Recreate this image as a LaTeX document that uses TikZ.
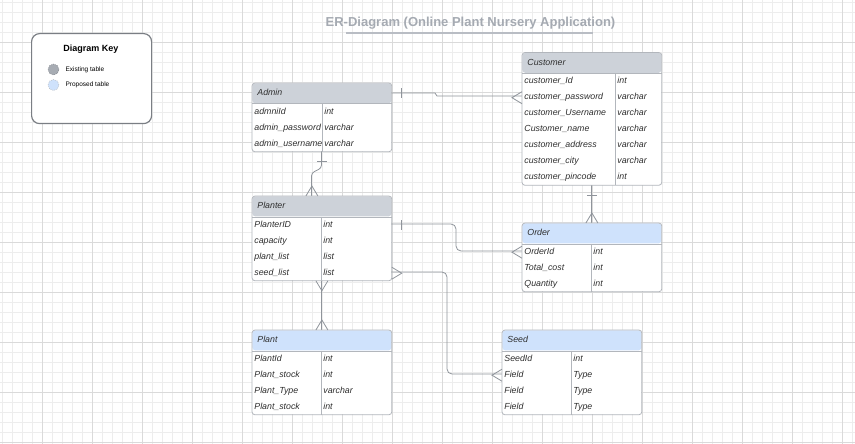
\documentclass[tikz,border=0pt]{standalone}
\usepackage{fontspec}
\setmainfont{Liberation Sans}
\usepackage{xcolor}
\definecolor{gridminor}{HTML}{EDEDED}
\definecolor{gridmajor}{HTML}{DADADA}
\definecolor{greyhead}{HTML}{CDD2D9}
\definecolor{bluehead}{HTML}{CFE2FC}
\definecolor{tabline}{HTML}{B2B6BC}
\definecolor{linkcolor}{HTML}{8F949B}
\definecolor{keyline}{HTML}{7A7E84}
\definecolor{titlecolor}{HTML}{A5AAB2}
\definecolor{titleline}{HTML}{B9BDC4}
\definecolor{oldfill}{HTML}{A7ACB3}
\definecolor{textcolor}{HTML}{2E2E2E}
\usepackage{tikz}
\usetikzlibrary{%
    calc,
    positioning
}
\newcommand{\tabfont}{\fontsize{8.8}{10}\selectfont\itshape}

\begin{document}
\begin{tikzpicture}[x=1pt, y=-1pt, line width=0.8pt,
    link/.style={draw=linkcolor, line width=0.8pt},
    frame/.style={fill=white, anchor=north west, minimum width=139pt, inner sep=0pt},
    head/.style={fill=#1, anchor=north west, minimum width=139pt, minimum height=20pt, text width=129pt, align=left, inner xsep=5pt, inner ysep=0pt, text height=6.5pt, text depth=2pt, rounded corners=3pt, font=\tabfont, text=textcolor},
    field/.style={anchor=north west, minimum width=139pt, minimum height=16pt, text width=135pt, align=left, inner xsep=2pt, inner ysep=0pt, text height=6.5pt, text depth=2pt, font=\tabfont, text=textcolor},
    type/.style={anchor=west, inner xsep=2pt, inner ysep=0pt, text height=6.5pt, text depth=2pt, font=\tabfont, text=textcolor},
    dot/.style={circle, minimum size=11pt, inner sep=0pt, dash pattern=on 1pt off 1pt, line width=0.4pt},
    keytext/.style={inner sep=0pt, font=\fontsize{6.5}{7}\selectfont},
    pics/many/.style={code={\draw [link] (0, -6) -- (10, 0) -- (0, 6);}},
    pics/one/.style={code={\draw [link] (10, -5) -- (10, 5);}}
    ]

    \useasboundingbox (0, 0) rectangle (855, 444);
    \fill [white] (0, 0) rectangle (855, 444);

    % grid
    \foreach \x in {2, 12, ..., 852} \draw [gridminor, line width=0.6pt] (\x, 0) -- (\x, 444);
    \foreach \y in {2, 12, ..., 442} \draw [gridminor, line width=0.6pt] (0, \y) -- (855, \y);
    \foreach \x in {42, 92, ..., 842} \draw [gridmajor, line width=0.8pt] (\x, 0) -- (\x, 444);
    \foreach \y in {42, 92, ..., 442} \draw [gridmajor, line width=0.8pt] (0, \y) -- (855, \y);

    % title
    \node (title) [font=\bfseries\fontsize{13}{15}\selectfont, text=titlecolor] at (470.5, 23.5) {ER-Diagram (Online Plant Nursery Application)};
    \draw [titleline, line width=1.1pt] (346, 33) -- (593, 33);

    % key
    \node (key) [draw=keyline, line width=1.2pt, rounded corners=8pt, fill=white, anchor=north west, minimum width=120pt, minimum height=90pt] at (31, 33) {};
    \node (key-title) [font=\bfseries\fontsize{9}{10}\selectfont] at (91, 49) {Diagram Key};
    \node (key-old) [dot, fill=oldfill, draw=keyline] at (53.5, 69.5) {};
    \node (key-new) [dot, fill=bluehead, draw=tabline] at (53.5, 85) {};
    \node (key-old-text) [keytext, right=6pt of key-old] {Existing table};
    \node (key-new-text) [keytext, right=6pt of key-new] {Proposed table};

    % connectors
    \draw [link] (252, 93) -- ++(183, 0) -- ++(2, 3) -- (522, 96);
    \draw [link, rounded corners=3pt] (321.5, 151) -- ++(0, 17) -- ++(-10, 5) -- (311.5, 196);
    \draw [link] (591.5, 184) -- (591.5, 223);
    \draw [link, rounded corners=5pt] (391, 224) -- ++(65, 0) |- (522, 251);
    \draw [link, rounded corners=5pt] (391, 272) -- ++(56, 0) |- (502, 374);
    \draw [link] (321.5, 280) -- (321.5, 330);

    % Admin
    \node (admin) [frame, minimum height=68pt] at (252, 83) {};
    \node (admin-head) [head=greyhead] at (admin.north west) {Admin};
    \foreach \fld/\typ [count=\i] in {admniId/int, admin\_password/varchar, admin\_username/varchar} {%
            \node (admin-\i) [field] at ($ (admin-head.south west) + (0, {16*(\i-1)}) $) {\fld};
            \node (admin-\i-type) [type] at ($ (admin-\i.west) + (70, 0) $) {\typ};
        }
    \draw [tabline, line width=0.6pt] ($ (admin-head.south west) + (70, 0) $) -- ++(0, 48);
    \draw [tabline, line width=0.6pt] (admin-head.south west) -- (admin-head.south east);
    \draw [tabline, rounded corners=3pt] (admin.north west) rectangle (admin.south east);

    % Customer
    \node (customer) [frame, minimum height=132pt] at (522, 52.5) {};
    \node (customer-head) [head=greyhead] at (customer.north west) {Customer};
    \foreach \fld/\typ [count=\i] in {customer\_Id/int, customer\_password/varchar, customer\_Username/varchar, Customer\_name/varchar, customer\_address/varchar, customer\_city/varchar, customer\_pincode/int} {%
            \node (customer-\i) [field] at ($ (customer-head.south west) + (0, {16*(\i-1)}) $) {\fld};
            \node (customer-\i-type) [type] at ($ (customer-\i.west) + (93, 0) $) {\typ};
        }
    \draw [tabline, line width=0.6pt] ($ (customer-head.south west) + (93, 0) $) -- ++(0, 112);
    \draw [tabline, line width=0.6pt] (customer-head.south west) -- (customer-head.south east);
    \draw [tabline, rounded corners=3pt] (customer.north west) rectangle (customer.south east);

    % Planter
    \node (planter) [frame, minimum height=84pt] at (252, 196) {};
    \node (planter-head) [head=greyhead] at (planter.north west) {Planter};
    \foreach \fld/\typ [count=\i] in {PlanterID/int, capacity/int, plant\_list/list, seed\_list/list} {%
            \node (planter-\i) [field] at ($ (planter-head.south west) + (0, {16*(\i-1)}) $) {\fld};
            \node (planter-\i-type) [type] at ($ (planter-\i.west) + (69, 0) $) {\typ};
        }
    \draw [tabline, line width=0.6pt] ($ (planter-head.south west) + (69, 0) $) -- ++(0, 64);
    \draw [tabline, line width=0.6pt] (planter-head.south west) -- (planter-head.south east);
    \draw [tabline, rounded corners=3pt] (planter.north west) rectangle (planter.south east);

    % Order
    \node (order) [frame, minimum height=68pt] at (522, 223) {};
    \node (order-head) [head=bluehead] at (order.north west) {Order};
    \foreach \fld/\typ [count=\i] in {OrderId/int, Total\_cost/int, Quantity/int} {%
            \node (order-\i) [field] at ($ (order-head.south west) + (0, {16*(\i-1)}) $) {\fld};
            \node (order-\i-type) [type] at ($ (order-\i.west) + (69, 0) $) {\typ};
        }
    \draw [tabline, line width=0.6pt] ($ (order-head.south west) + (69, 0) $) -- ++(0, 48);
    \draw [tabline, line width=0.6pt] (order-head.south west) -- (order-head.south east);
    \draw [tabline, rounded corners=3pt] (order.north west) rectangle (order.south east);

    % Plant
    \node (plant) [frame, minimum height=84pt] at (252, 330) {};
    \node (plant-head) [head=bluehead] at (plant.north west) {Plant};
    \foreach \fld/\typ [count=\i] in {PlantId/int, Plant\_stock/int, Plant\_Type/varchar, Plant\_stock/int} {%
            \node (plant-\i) [field] at ($ (plant-head.south west) + (0, {16*(\i-1)}) $) {\fld};
            \node (plant-\i-type) [type] at ($ (plant-\i.west) + (69, 0) $) {\typ};
        }
    \draw [tabline, line width=0.6pt] ($ (plant-head.south west) + (69, 0) $) -- ++(0, 64);
    \draw [tabline, line width=0.6pt] (plant-head.south west) -- (plant-head.south east);
    \draw [tabline, rounded corners=3pt] (plant.north west) rectangle (plant.south east);

    % Seed
    \node (seed) [frame, minimum height=84pt] at (502, 330) {};
    \node (seed-head) [head=bluehead] at (seed.north west) {Seed};
    \foreach \fld/\typ [count=\i] in {SeedId/int, Field/Type, Field/Type, Field/Type} {%
            \node (seed-\i) [field] at ($ (seed-head.south west) + (0, {16*(\i-1)}) $) {\fld};
            \node (seed-\i-type) [type] at ($ (seed-\i.west) + (69, 0) $) {\typ};
        }
    \draw [tabline, line width=0.6pt] ($ (seed-head.south west) + (69, 0) $) -- ++(0, 64);
    \draw [tabline, line width=0.6pt] (seed-head.south west) -- (seed-head.south east);
    \draw [tabline, rounded corners=3pt] (seed.north west) rectangle (seed.south east);

    % end marks
    \pic at (admin-head.east) {one};
    \pic [rotate=180] at (customer-2.west) {many};
    \pic [rotate=-90] at (admin.south) {one};
    \pic [rotate=90] at ([xshift=-10pt] planter.north) {many};
    \pic [rotate=-90] at (customer.south) {one};
    \pic [rotate=90] at (order.north) {many};
    \pic at (planter-1.east) {one};
    \pic [rotate=180] at (order-1.west) {many};
    \pic at (planter-4.east) {many};
    \pic [rotate=180] at (seed-2.west) {many};
    \pic [rotate=-90] at (planter.south) {many};
    \pic [rotate=90] at (plant.north) {many};
\end{tikzpicture}
\end{document}
